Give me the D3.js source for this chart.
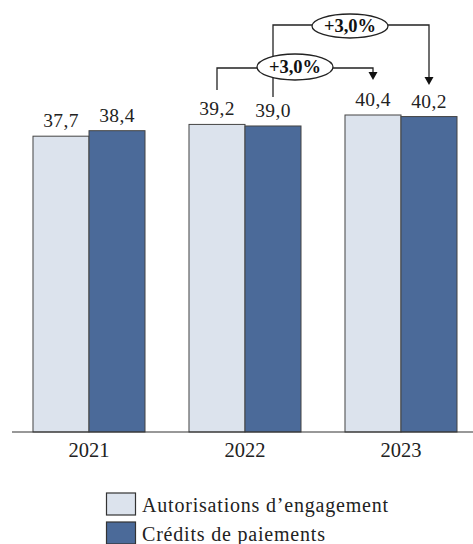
<!DOCTYPE html>
<html><head><meta charset="utf-8">
<script src="https://cdn.jsdelivr.net/npm/d3@7"></script>
<style>body{margin:0;background:#fff}svg{display:block}</style>
</head><body>
<script>
const years = ["2021", "2022", "2023"];
const seriesNames = ["Autorisations d\u2019engagement", "Cr\u00e9dits de paiements"];
const ae = [37.7, 39.2, 40.4];
const cp = [38.4, 39.0, 40.2];
const valueLabels = [["37,7","39,2","40,4"],["38,4","39,0","40,2"]];
const growth = ["+3,0%", "+3,0%"];

const W = 473, H = 544;
const colors = ["#dce3ed", "#4b6a99"];
const font = "'Liberation Serif', 'DejaVu Serif', serif";
const svg = d3.select("body").append("svg").attr("width", W).attr("height", H);

const x = d3.scaleBand().domain(years).range([11, 479]).paddingInner(0.282).paddingOuter(0.141);
const x1 = d3.scaleBand().domain([0,1]).range([0, x.bandwidth()]);
const y = d3.scaleLinear().domain([0, 40.4]).range([432, 115]);

const series = [ae, cp];
series.forEach((vals, s) => {
  svg.selectAll(".b"+s).data(vals).join("rect")
    .attr("x", (d,i) => x(years[i]) + x1(s))
    .attr("y", d => y(d))
    .attr("width", x1.bandwidth())
    .attr("height", d => y(0) - y(d))
    .attr("fill", colors[s]).attr("stroke", "#444").attr("stroke-width", 1);
  svg.selectAll(".l"+s).data(vals).join("text")
    .attr("x", (d,i) => x(years[i]) + x1(s) + x1.bandwidth()/2)
    .attr("y", d => y(d) - 9)
    .attr("text-anchor", "middle").attr("font-family", font).attr("font-size", 19.5)
    .attr("letter-spacing", 0.4)
    .attr("fill", "#222")
    .text((d,i) => valueLabels[s][i]);
});

// axis
const axis = svg.append("g").attr("transform", "translate(0,432)")
  .call(d3.axisBottom(x).tickSize(0).tickPadding(10));
axis.select(".domain").attr("d", "M12,0H473").attr("stroke", "#333").attr("stroke-width", 1.2);
axis.selectAll("text").attr("font-family", font).attr("font-size", 20.5).attr("fill", "#222")
  .attr("dy", null).attr("y", 25);

// annotations
const cx = (yr, s) => x(yr) + x1(s) + x1.bandwidth()/2;
function arrowHead(px, py) {
  svg.append("path").attr("d", `M${px-4.5},${py-8}L${px+4.5},${py-8}L${px},${py}Z`).attr("fill", "#111");
}
function annot(fromX, fromY, toX, toY, lineY, ex, ey, rx, ry, label) {
  svg.append("path")
    .attr("d", `M${fromX},${fromY}V${lineY}H${toX}V${toY-7}`)
    .attr("fill", "none").attr("stroke", "#222").attr("stroke-width", 1.3);
  arrowHead(toX, toY);
  svg.append("ellipse").attr("cx", ex).attr("cy", ey).attr("rx", rx).attr("ry", ry)
    .attr("fill", "#fff").attr("stroke", "#222").attr("stroke-width", 1.3);
  svg.append("text").attr("x", ex).attr("y", ey + 6).attr("text-anchor", "middle")
    .attr("font-family", font).attr("font-size", 18.5).attr("font-weight", "bold").attr("fill", "#111")
    .text(label);
}
annot(cx("2022",1), 97, cx("2023",1), 85, 25, 350, 26, 38, 12, growth[1]);
annot(cx("2022",0), 90, cx("2023",0), 80, 68, 295, 67, 38, 13, growth[0]);

// legend
const leg = svg.append("g");
seriesNames.forEach((n, i) => {
  const gy = 493 + i * 29;
  leg.append("rect").attr("x", 106.5).attr("y", gy).attr("width", 29).attr("height", 22)
    .attr("fill", colors[i]).attr("stroke", "#333").attr("stroke-width", 1.2);
  leg.append("text").attr("x", 142).attr("y", gy + 19)
    .attr("font-family", font).attr("font-size", 20).attr("letter-spacing", 0.8)
    .attr("fill", "#222").text(n);
});
</script>
</body></html>
